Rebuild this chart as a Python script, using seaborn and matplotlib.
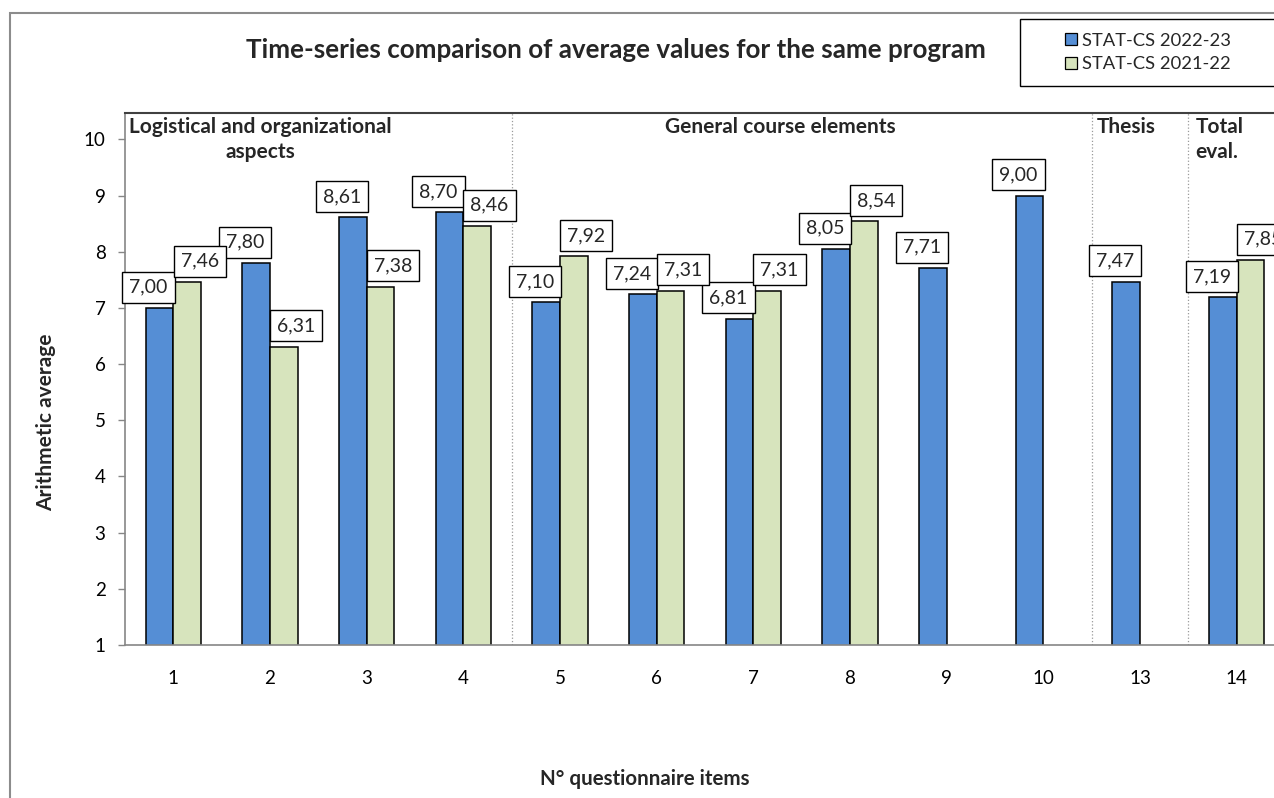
import numpy as np
import pandas as pd
import matplotlib
matplotlib.use("Agg")
import matplotlib.pyplot as plt
from matplotlib.patches import Rectangle
from matplotlib.lines import Line2D
import seaborn as sns

# data (0 / missing for 2021-22 at items 9, 10, 13)
items = ["1", "2", "3", "4", "5", "6", "7", "8", "9", "10", "13", "14"]
stat_2022_23 = [7.00, 7.80, 8.61, 8.70, 7.10, 7.24, 6.81, 8.05, 7.71, 9.00, 7.47, 7.19]
stat_2021_22 = [7.46, 6.31, 7.38, 8.46, 7.92, 7.31, 7.31, 8.54, np.nan, np.nan, np.nan, 7.85]
series_names = ["STAT-CS 2022-23", "STAT-CS 2021-22"]
group_labels = ["Logistical and organizational\naspects", "General course elements",
                "Thesis", "Total\neval."]

blue = "#558ED5"
green = "#D7E4BD"

df = pd.DataFrame({
    "item": items * 2,
    "value": stat_2022_23 + stat_2021_22,
    "series": [series_names[0]] * len(items) + [series_names[1]] * len(items),
})

sns.set_style("white")
plt.rcParams["font.family"] = ["Lato", "DejaVu Sans"]

W, H = 1274, 798
fig = plt.figure(figsize=(W / 100, H / 100), dpi=100)
ax = fig.add_axes([125 / W, 1 - 645 / H, (1285 - 125) / W, (645 - 113) / H])

sns.barplot(data=df, x="item", y="value", hue="series", order=items,
            hue_order=series_names, palette=[blue, green], width=0.57, saturation=1,
            edgecolor="black", linewidth=1.1, legend=False, ax=ax)

ax.set_ylim(1, 10.47)
ax.set_xlim(-0.5, len(items) - 0.5)
ax.set_yticks(range(1, 11))
ax.set_xticks(np.arange(-0.5, len(items)), minor=True)
ax.tick_params(axis="x", which="major", length=0, pad=18, labelsize=13.5, colors="black")
ax.tick_params(axis="x", which="minor", length=5, width=1, color="#868686", direction="out")
ax.tick_params(axis="y", length=5, width=1, color="#868686", pad=9, labelsize=13.5,
               direction="out", left=True, labelcolor="black")
for s in ["left", "bottom"]:
    ax.spines[s].set_color("#868686")
    ax.spines[s].set_linewidth(1.2)
ax.spines["top"].set_color("#404040")
ax.spines["top"].set_linewidth(1.5)
ax.spines["right"].set_visible(False)
ax.set_xlabel("")
ax.set_ylabel("")

# dotted separators between groups
for xs in [3.5, 9.5, 10.5]:
    ax.axvline(xs, color="#9a9a9a", linestyle=":", linewidth=0.9, zorder=0)

# value labels in boxes
offsets = [-8, 9]
for cont, dx in zip(ax.containers, offsets):
    for bar in cont:
        h = bar.get_height()
        if np.isnan(h) or h <= 0:
            continue
        xc = bar.get_x() + bar.get_width() / 2
        ax.annotate(f"{h:.2f}".replace(".", ","), (xc, h), xytext=(dx, 15),
                    textcoords="offset points", ha="center", va="center",
                    fontsize=14,
                    bbox=dict(boxstyle="square,pad=0.36", fc="white", ec="black", lw=1.0))

# group headings inside the plot area
group_x = [0.9, 6.28, 9.86, 10.82]
group_align = ["center", "center", "center", "left"]
for gx, lab, al in zip(group_x, group_labels, group_align):
    ax.text(gx, 10.4, lab, ha="center", va="top", fontsize=15, fontweight="bold",
            linespacing=1.3, multialignment=al)

fig.text(616 / W, 1 - 50 / H, "Time-series comparison of average values for the same program",
         ha="center", va="center", fontsize=18.7, fontweight="bold")
fig.text(46 / W, 1 - 422 / H, "Arithmetic average", rotation=90, ha="center", va="center",
         fontsize=15, fontweight="bold")
fig.text(645 / W, 1 - 779 / H, "N° questionnaire items", ha="center", va="center",
         fontsize=14.8, fontweight="bold")

# outer chart frame (runs off the right and bottom)
fig.patches.append(Rectangle((10 / W, -0.1), 1.2, 1 - 13 / H + 0.1, transform=fig.transFigure,
                             fill=False, ec="#8c8c8c", lw=1.5))
# legend with its own frame
fig.patches.append(Rectangle((1020 / W, 1 - 86 / H), 0.2, (86 - 19) / H, transform=fig.transFigure,
                             fill=False, ec="black", lw=1.0))
handles = [Line2D([], [], marker="s", linestyle="", markersize=9, markerfacecolor=c,
                  markeredgecolor="black", markeredgewidth=0.9) for c in [blue, green]]
fig.legend(handles, series_names, loc="center left",
           bbox_to_anchor=(1064 / W, 1 - 52.5 / H), frameon=False, fontsize=13.2,
           handlelength=0.8, handletextpad=0.2, labelspacing=0.4, borderpad=0,
           borderaxespad=0)

fig.savefig("out.png", dpi=100)
